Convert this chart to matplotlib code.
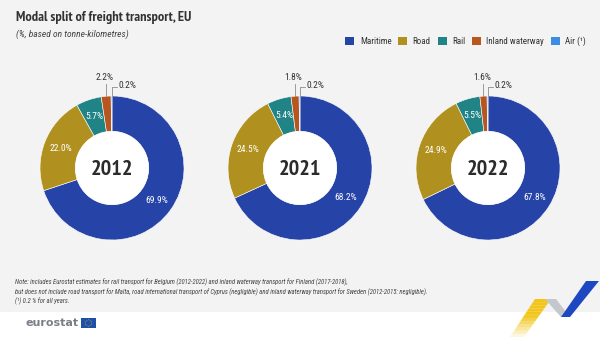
import numpy as np
import matplotlib.pyplot as plt
from matplotlib.patches import Patch, Rectangle, Polygon, Circle

plt.rcParams['font.family'] = ['Roboto Condensed', 'DejaVu Sans']

# data
years = ['2012', '2021', '2022']
modes = ['Maritime', 'Road', 'Rail', 'Inland waterway', 'Air (¹)']
maritime = [69.9, 68.2, 67.8]
road = [22.0, 24.5, 24.9]
rail = [5.7, 5.4, 5.5]
inland = [2.2, 1.8, 1.6]
air = [0.2, 0.2, 0.2]

colors = ['#2644A7', '#B09120', '#208486', '#B7561F', '#3B8DE3']

W, H = 600, 337
fig = plt.figure(figsize=(6, 3.37), dpi=100, facecolor='white')

# grey panel
fig.patches.append(Rectangle((0, 25 / H), 1, 1 - 25 / H, transform=fig.transFigure,
                             facecolor='#F3F3F3', edgecolor='none', zorder=-10))

fig.text(16 / W, 1 - 18 / H, 'Modal split of freight transport, EU', fontsize=10.3,
         fontweight='bold', color='#333333', va='center', family='PT Sans Narrow')
fig.text(16 / W, 1 - 34 / H, '(%, based on tonne-kilometres)', fontsize=6.8,
         style='italic', color='#444444', va='center')

handles = [Patch(facecolor=c, edgecolor='none', label=m) for c, m in zip(colors, modes)]
fig.legend(handles=handles, loc='center right', bbox_to_anchor=(586 / W, 1 - 41 / H),
           ncol=5, frameon=False, fontsize=6.5, handlelength=1.0, handleheight=1.0,
           handletextpad=0.6, columnspacing=0.75, labelcolor='#333333',
           borderaxespad=0, borderpad=0)

R = 72.0
centers = [112, 300, 488]
cy = 168
aw, ah = 188, 230

for i, yr in enumerate(years):
    vals = [maritime[i], road[i], rail[i], inland[i], air[i]]
    cx = centers[i]
    ax = fig.add_axes([(cx - aw / 2) / W, (H - cy - ah / 2) / H, aw / W, ah / H])
    ax.pie(vals, colors=colors, startangle=90, counterclock=False, radius=1,
           wedgeprops=dict(width=0.49, edgecolor='white', linewidth=0.4))
    ax.add_patch(Circle((0, 0), 0.51, facecolor='white', edgecolor='none'))
    ax.set_xlim(-aw / 2 / R, aw / 2 / R)
    ax.set_ylim(-ah / 2 / R, ah / 2 / R)
    ax.set_aspect('equal', adjustable='datalim')
    ax.axis('off')

    total = sum(vals)
    cum = np.cumsum([0] + vals[:-1])
    mids = 90 - 360 * (cum + np.array(vals) / 2) / total
    for j in range(3):
        a = np.deg2rad(mids[j])
        ax.text(0.76 * np.cos(a), 0.76 * np.sin(a), f'{vals[j]:.1f}%', color='white',
                fontsize=6.8, ha='center', va='center')
    # small shares outside with leader lines
    a = np.deg2rad(mids[3])
    x3 = np.cos(a)
    ax.plot([x3, x3], [np.sin(a), 1.17], color='#777777', lw=0.5, clip_on=False)
    ax.text(x3 - 0.02, 1.25, f'{vals[3]:.1f}%', fontsize=6.8, color='#333333',
            ha='center', va='center')
    a = np.deg2rad(mids[4])
    x4 = np.cos(a)
    ax.plot([x4, x4, 0.07], [np.sin(a), 1.13, 1.13], color='#777777', lw=0.5, clip_on=False)
    ax.text(0.09, 1.14, f'{vals[4]:.1f}%', fontsize=6.8, color='#333333',
            ha='left', va='center')
    ax.text(0, -0.02, yr, fontsize=16, fontweight='bold', color='#2b2b2b',
            ha='center', va='center', family='PT Sans Narrow')

note = ('Note: includes Eurostat estimates for rail transport for Belgium (2012-2022) and inland '
        'waterway transport for Finland (2017-2018),\n'
        'but does not include road transport for Malta, road international transport of Cyprus '
        '(negligible) and inland waterway transport for Sweden (2012-2015: negligible).\n'
        '(¹) 0.2 % for all years.')
fig.text(15 / W, 1 - 278 / H, note, fontsize=4.75, style='italic', color='#444444',
         va='top', linespacing=1.38)

# eurostat logo
fig.text(25 / W, 1 - 323 / H, 'eurostat', fontsize=8.0, fontweight='bold', color='#7A7F85',
         va='center', family='DejaVu Sans')
fig.patches.append(Rectangle((81 / W, 1 - 328 / H), 15 / W, 10 / H, transform=fig.transFigure,
                             facecolor='#1F4FA8', edgecolor='none'))
for k in range(12):
    t = 2 * np.pi * k / 12
    fig.patches.append(Circle(((88.5 + 3.2 * np.cos(t)) / W, (H - 323 + 3.2 * np.sin(t)) / H),
                              0.5 / W, transform=fig.transFigure, facecolor='#F5D30A',
                              edgecolor='none'))

# swoosh decoration
def px(pts):
    return [(x / W, 1 - y / H) for x, y in pts]

n = 12
for k in range(n):
    t0, t1 = k / n, (k + 1) / n
    l0, r0 = 535 + (510 - 535) * t0, 551 + (524 - 551) * t0
    l1, r1 = 535 + (510 - 535) * t1, 551 + (524 - 551) * t1
    y0, y1 = 299 + 38 * t0, 299 + 38 * t1
    fig.patches.append(Polygon(px([(l0, y0), (r0, y0), (r1, y1), (l1, y1)]),
                               transform=fig.transFigure, facecolor='#F2C518',
                               edgecolor='none', alpha=min(1, 1.6 * (1 - t0))))
fig.patches.append(Polygon(px([(545, 299), (556, 299), (570, 317), (561, 317)]),
                           transform=fig.transFigure, facecolor='#C4C7CC', edgecolor='none'))
fig.patches.append(Polygon(px([(561, 317), (570, 317), (599, 281), (586, 281)]),
                           transform=fig.transFigure, facecolor='#1E47C2', edgecolor='none'))

fig.savefig('out.png', dpi=100, facecolor=fig.get_facecolor())
